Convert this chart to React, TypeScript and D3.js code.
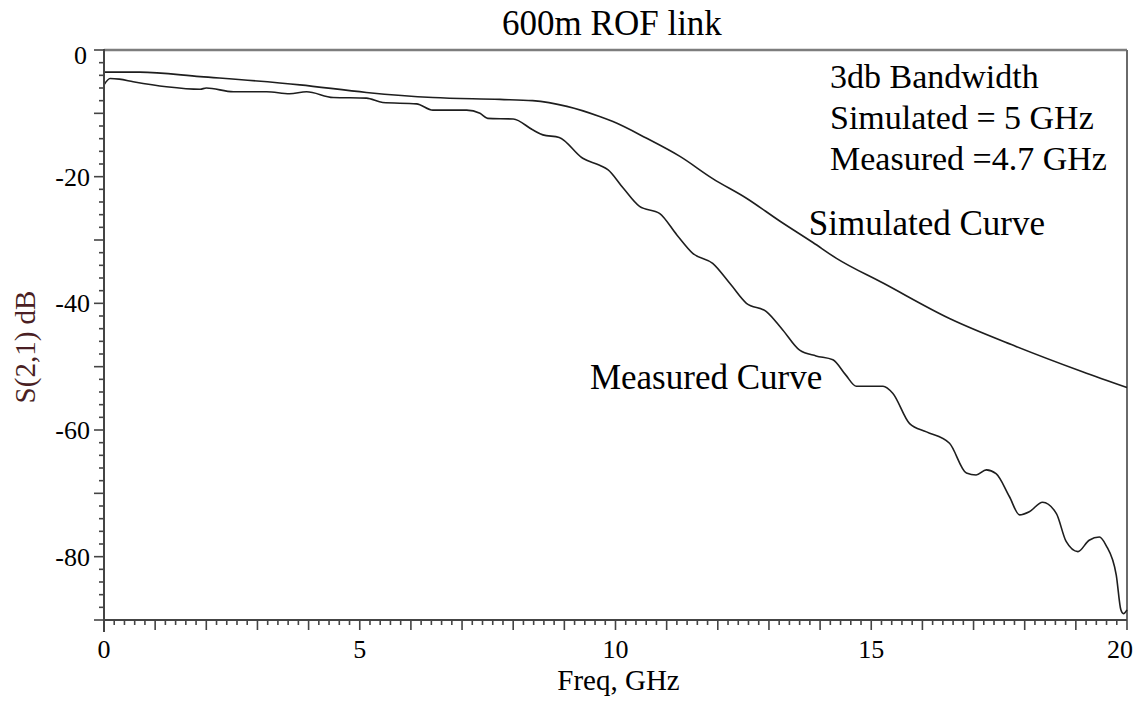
import React from "react";
import * as d3 from "d3";

// S21 response of a 600 m radio-over-fibre link (dB vs GHz)
const simFreq = [0, 0.7, 1.88, 3.83, 5.13, 6.43, 7.74, 8.38, 9.05, 9.69, 9.95, 10.6, 11.26, 11.9, 12.56, 13.21, 13.86, 14.32, 15.23, 16.53, 17.83, 19.13, 20];
const simDb = [-3.5, -3.5, -4.2, -5.5, -6.7, -7.5, -7.8, -8.0, -8.9, -10.5, -11.3, -13.9, -16.8, -20.3, -23.4, -27.0, -30.4, -32.9, -36.8, -42.4, -46.8, -50.8, -53.3];

const measFreq = [0, 0.12, 0.3, 0.57, 1.22, 1.88, 2.0, 2.53, 3.18, 3.63, 3.96, 4.48, 5.13, 5.45, 6.11, 6.43, 7.09, 7.35, 7.5, 8.0, 8.38, 8.58, 8.9, 9.36, 9.69, 9.85, 10.15, 10.47, 10.86, 11.2, 11.51, 11.9, 12.25, 12.56, 12.95, 13.27, 13.6, 13.92, 14.25, 14.5, 14.71, 15.23, 15.42, 15.75, 16.08, 16.53, 16.86, 17.05, 17.25, 17.44, 17.7, 17.9, 18.09, 18.35, 18.62, 18.81, 19.04, 19.26, 19.46, 19.59, 19.79, 19.88, 19.93, 20];
const measDb = [-5.5, -4.5, -4.6, -5.0, -5.8, -6.2, -6.0, -6.6, -6.6, -6.9, -6.6, -7.5, -7.6, -8.3, -8.5, -9.5, -9.5, -10.0, -10.8, -10.9, -12.6, -13.4, -13.8, -17.1, -18.2, -18.9, -21.8, -24.7, -25.8, -29.2, -32.1, -33.7, -37.0, -40.0, -41.3, -44.2, -47.4, -48.3, -48.9, -51.3, -53.1, -53.1, -54.2, -59.0, -60.3, -62.1, -66.8, -67.1, -66.3, -66.9, -70.5, -73.4, -72.9, -71.4, -73.2, -77.6, -79.2, -77.4, -76.9, -78.2, -82.9, -88.4, -89.0, -88.4];

const xTickLabels = [0, 5, 10, 15, 20];
const yTickLabels = [0, -20, -40, -60, -80];

const titleText = "600m ROF link";
const xAxisTitle = "Freq, GHz";
const yAxisTitle = "S(2,1) dB";
const bandwidthLines = ["3db Bandwidth", "Simulated = 5 GHz", "Measured =4.7 GHz"];

const W = 1143;
const H = 702;
const margin = { left: 104, right: 16, top: 50, bottom: 82 };
const serif = '"Liberation Serif", "Times New Roman", serif';

export default function App() {
  const x = d3.scaleLinear().domain([0, 20]).range([margin.left, W - margin.right]);
  const y = d3.scaleLinear().domain([-90, 0]).range([H - margin.bottom, margin.top]);

  const line = d3
    .line<[number, number]>()
    .x((d) => x(d[0]))
    .y((d) => y(d[1]))
    .curve(d3.curveMonotoneX);

  const simPath = line(simFreq.map((f, i) => [f, simDb[i]] as [number, number])) || "";
  const measPath = line(measFreq.map((f, i) => [f, measDb[i]] as [number, number])) || "";

  const xMinor = d3.range(0, 20.001, 0.2).map((v) => +v.toFixed(1));
  const yMinor = d3.range(-90, 0.001, 2);

  const x0 = x(0);
  const y0 = y(-90);
  const xEnd = x(20);
  const yTop = y(0);

  return (
    <svg
      width={W}
      height={H}
      style={{ position: "absolute", left: 0, top: 0, background: "#fff" }}
      fontFamily={serif}
    >
      <rect x={0} y={0} width={W} height={H} fill="#fff" />

      {/* frame: top and right edges */}
      <line x1={x0} x2={xEnd} y1={yTop} y2={yTop} stroke="#7d7d7d" strokeWidth={2.5} />
      <line x1={xEnd} x2={xEnd} y1={yTop} y2={y0} stroke="#6a6a6a" strokeWidth={2} />

      {/* curves */}
      <path d={simPath} fill="none" stroke="#1e1e1e" strokeWidth={1.6} />
      <path d={measPath} fill="none" stroke="#1e1e1e" strokeWidth={1.6} />

      {/* x axis */}
      <line x1={x0 - 1} x2={xEnd} y1={y0} y2={y0} stroke="#444" strokeWidth={2} />
      {xMinor.map((v) => {
        const major = Math.abs(v - Math.round(v)) < 1e-6;
        return (
          <line
            key={"xt" + v}
            x1={x(v)}
            x2={x(v)}
            y1={y0}
            y2={y0 + (major ? 10 : 5)}
            stroke="#444"
            strokeWidth={1.6}
          />
        );
      })}
      {xTickLabels.map((v, i) => (
        <text
          key={"xl" + v}
          x={x(v) + (i === xTickLabels.length - 1 ? -7 : 0)}
          y={y0 + 38}
          textAnchor="middle"
          fontSize={26}
          fill="#000"
        >
          {v}
        </text>
      ))}
      <text x={x(10) + 3} y={H - 12} textAnchor="middle" fontSize={29} fill="#000">
        {xAxisTitle}
      </text>

      {/* y axis */}
      <line x1={x0} x2={x0} y1={yTop - 1} y2={y0 + 12} stroke="#444" strokeWidth={2} />
      {yMinor.map((v) => {
        const major = v % 10 === 0;
        return (
          <line
            key={"yt" + v}
            x1={x0}
            x2={x0 - (major ? 10 : 5)}
            y1={y(v)}
            y2={y(v)}
            stroke="#444"
            strokeWidth={1.6}
          />
        );
      })}
      {yTickLabels.map((v) => (
        <text
          key={"yl" + v}
          x={v === 0 ? x0 - 17 : x0 - 14}
          y={y(v) + (v === 0 ? 14 : 9)}
          textAnchor="end"
          fontSize={26}
          fill="#000"
        >
          {v}
        </text>
      ))}
      <text
        transform={`translate(35, 347) rotate(-90)`}
        textAnchor="middle"
        fontSize={29}
        fill="#4a1f24"
      >
        {yAxisTitle}
      </text>

      {/* title */}
      <text x={612} y={35} textAnchor="middle" fontSize={35} fill="#000">
        {titleText}
      </text>

      {/* bandwidth note */}
      {bandwidthLines.map((t, i) => (
        <text key={t} x={830} y={88 + i * 41} fontSize={34} fill="#000">
          {t}
        </text>
      ))}

      {/* curve labels */}
      <text x={x(13.78)} y={y(-29.2)} fontSize={35} fill="#000">
        Simulated Curve
      </text>
      <text x={x(9.5)} y={y(-53.6)} fontSize={35} fill="#000">
        Measured Curve
      </text>
    </svg>
  );
}
